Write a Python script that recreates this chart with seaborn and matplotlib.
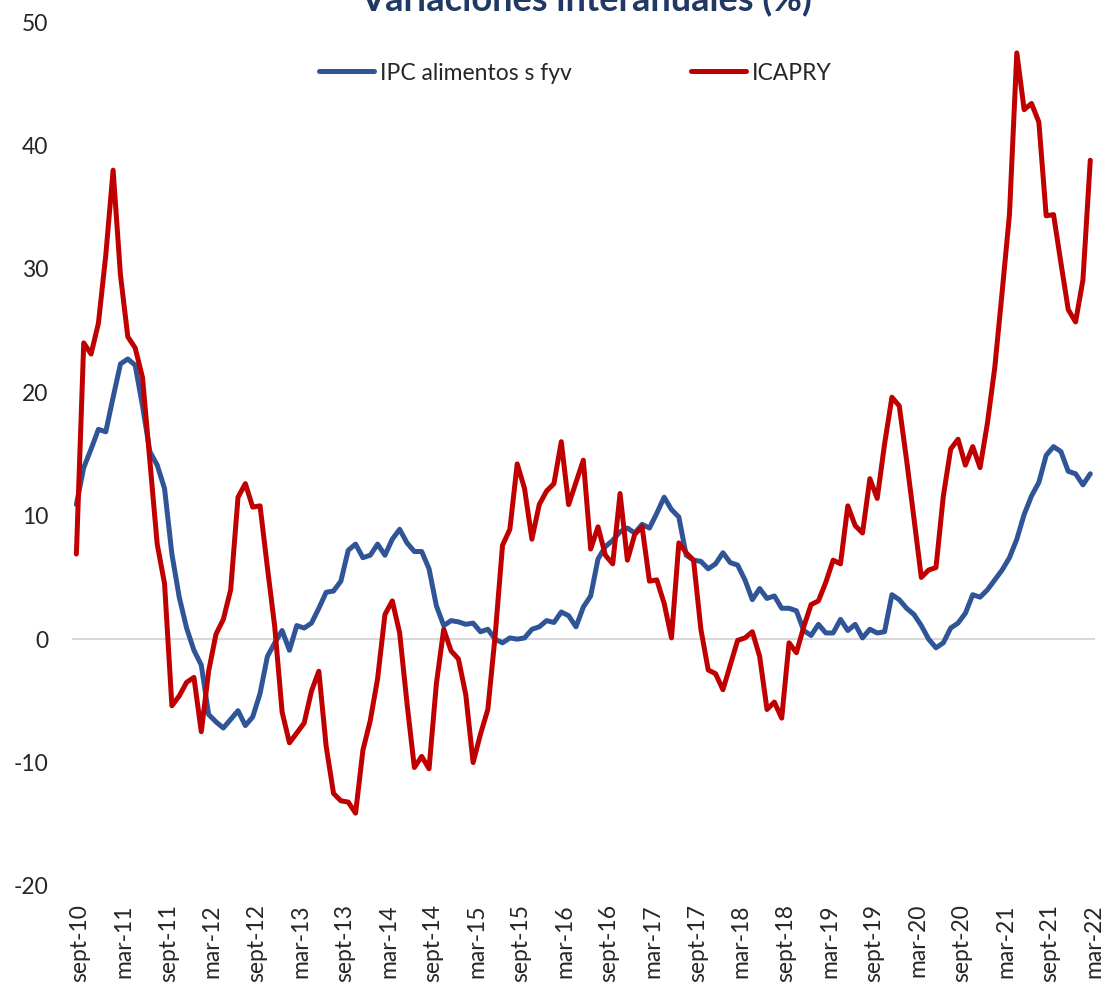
import matplotlib.pyplot as plt
import numpy as np
import pandas as pd
import seaborn as sns

# monthly series, sept-10 .. mar-22 (variaciones interanuales, %)
months = pd.date_range('2010-09-01', '2022-03-01', freq='MS')

tick_labels = ['sept-10', 'mar-11', 'sept-11', 'mar-12', 'sept-12', 'mar-13',
               'sept-13', 'mar-14', 'sept-14', 'mar-15', 'sept-15', 'mar-16',
               'sept-16', 'mar-17', 'sept-17', 'mar-18', 'sept-18', 'mar-19',
               'sept-19', 'mar-20', 'sept-20', 'mar-21', 'sept-21', 'mar-22']

ipc_alimentos = [
    10.9, 13.9, 15.4, 17.0, 16.8, 19.6, 22.3, 22.7, 22.2, 18.9, 15.2, 14.1,
    12.2, 6.9, 3.4, 0.9, -0.9, -2.1, -6.1, -6.7, -7.2, -6.5, -5.8, -7.0,
    -6.3, -4.4, -1.4, -0.3, 0.7, -0.9, 1.1, 0.9, 1.3, 2.5, 3.8, 3.9,
    4.7, 7.2, 7.7, 6.6, 6.8, 7.7, 6.8, 8.1, 8.9, 7.8, 7.1, 7.1,
    5.7, 2.7, 1.1, 1.5, 1.4, 1.2, 1.3, 0.6, 0.8, 0.0, -0.3, 0.1,
    0.0, 0.1, 0.8, 1.0, 1.5, 1.35, 2.2, 1.9, 1.0, 2.6, 3.5, 6.5,
    7.5, 8.0, 8.7, 9.0, 8.6, 9.3, 9.0, 10.2, 11.5, 10.5, 9.9, 6.8,
    6.4, 6.3, 5.7, 6.1, 7.0, 6.2, 6.0, 4.8, 3.2, 4.1, 3.3, 3.5,
    2.5, 2.5, 2.3, 0.7, 0.3, 1.2, 0.5, 0.5, 1.6, 0.7, 1.2, 0.1,
    0.8, 0.5, 0.6, 3.6, 3.2, 2.5, 2.0, 1.1, 0.0, -0.7, -0.3, 0.9,
    1.3, 2.1, 3.6, 3.4, 4.0, 4.8, 5.6, 6.6, 8.1, 10.1, 11.6, 12.7,
    14.9, 15.6, 15.2, 13.6, 13.4, 12.5, 13.4,
]

icapry = [
    6.9, 24.0, 23.1, 25.6, 31.1, 38.0, 29.5, 24.5, 23.6, 21.2, 14.5, 7.7,
    4.5, -5.4, -4.6, -3.5, -3.1, -7.5, -2.6, 0.4, 1.6, 4.0, 11.5, 12.6,
    10.7, 10.8, 5.8, 1.0, -5.9, -8.4, -7.6, -6.8, -4.2, -2.6, -8.7, -12.5,
    -13.1, -13.2, -14.1, -9.0, -6.6, -3.2, 2.0, 3.1, 0.5, -5.2, -10.4, -9.5,
    -10.5, -3.6, 0.8, -0.95, -1.6, -4.5, -10.0, -7.7, -5.7, 0.3, 7.6, 8.9,
    14.2, 12.2, 8.1, 10.9, 12.0, 12.6, 16.0, 10.9, 12.7, 14.5, 7.3, 9.1,
    6.8, 6.1, 11.8, 6.4, 8.5, 9.1, 4.7, 4.8, 2.9, 0.1, 7.8, 7.0,
    6.4, 0.8, -2.5, -2.8, -4.1, -2.1, -0.1, 0.1, 0.6, -1.4, -5.7, -5.1,
    -6.4, -0.3, -1.1, 1.0, 2.8, 3.1, 4.6, 6.4, 6.1, 10.8, 9.2, 8.6,
    13.0, 11.4, 15.8, 19.6, 18.9, 14.5, 9.8, 5.0, 5.6, 5.8, 11.6, 15.4,
    16.2, 14.1, 15.6, 13.9, 17.5, 22.0, 28.1, 34.4, 47.5, 42.9, 43.4, 41.9,
    34.3, 34.4, 30.5, 26.7, 25.7, 29.1, 38.8,
]

series_names = ['IPC alimentos s fyv', 'ICAPRY']
colors = ['#2F5597', '#C00000']

# Excel-style category axis: each month sits in the middle of its slot
pos = np.arange(len(months)) + 0.5
df = pd.DataFrame({'pos': pos, series_names[0]: ipc_alimentos, series_names[1]: icapry})
df = df.melt(id_vars='pos', var_name='serie', value_name='valor')

sns.set_style('white')
plt.rcParams['font.family'] = ['Lato', 'DejaVu Sans']
plt.rcParams['axes.unicode_minus'] = False

fig = plt.figure(figsize=(11.05, 9.84), dpi=100)
ax = fig.add_axes([0.0658, 0.0996, 0.9242, 0.8780])

sns.lineplot(data=df, x='pos', y='valor', hue='serie', palette=colors,
             linewidth=3.6, ax=ax, solid_joinstyle='round', solid_capstyle='round')

ax.set_xlim(0, len(months))
ax.set_ylim(-20, 50)
ax.set_yticks(range(-20, 51, 10))
ax.set_xlabel('')
ax.set_ylabel('')

for side in ['left', 'right', 'top']:
    ax.spines[side].set_visible(False)
ax.spines['bottom'].set_position(('data', 0))
ax.spines['bottom'].set_color('#D9D9D9')
ax.spines['bottom'].set_linewidth(1.5)
ax.spines['bottom'].set_zorder(0)

tick_pos = np.arange(0, len(months), 6)
ax.set_xticks(tick_pos)
ax.tick_params(axis='x', direction='out', length=7, width=1.5, color='#D9D9D9',
               labelbottom=False)
ax.tick_params(axis='y', length=0, pad=17.5, labelsize=16.5)

# month labels sit at the bottom of the plot, not on the zero line
sec = ax.secondary_xaxis('bottom')
sec.set_xticks(tick_pos + 1.0, labels=tick_labels, rotation=90)
sec.tick_params(length=0, pad=13, labelsize=16.5)
sec.spines['bottom'].set_visible(False)

sns.move_legend(ax, 'center', bbox_to_anchor=(0.492, 0.941), ncol=2, frameon=False,
                title=None, fontsize=16.5, handlelength=2.4, handletextpad=0.25,
                columnspacing=5.2)
for h in ax.get_legend().get_lines():
    h.set_linewidth(3.6)
    h.set_solid_capstyle('round')

fig.text(0.530, 1 - 11 / 984, 'Variaciones interanuales (%)', ha='center', va='baseline',
         fontsize=26, fontweight='bold', color='#1F3864')

fig.savefig('out.png', dpi=100)
